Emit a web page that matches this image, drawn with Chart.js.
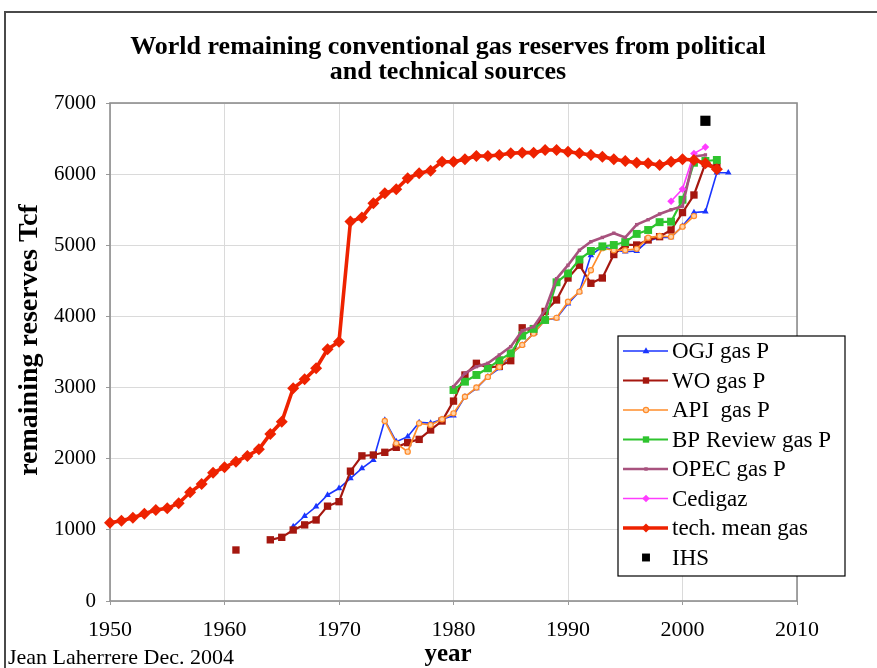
<!DOCTYPE html>
<html><head><meta charset="utf-8">
<script src="https://cdn.jsdelivr.net/npm/chart.js@4.4.1/dist/chart.umd.min.js"></script>
<style>html,body{margin:0;padding:0;background:#fff;overflow:hidden}canvas{display:block}</style>
</head><body>
<canvas id="c" width="877" height="668"></canvas>
<script>
// ---------- data ----------
const xTicks = [1950, 1960, 1970, 1980, 1990, 2000, 2010];
const yTicks = [0, 1000, 2000, 3000, 4000, 5000, 6000, 7000];

const ogjYears = [1966,1967,1968,1969,1970,1971,1972,1973,1974,1975,1976,1977,1978,1979,1980,1981,1982,1983,1984,1985,1986,1987,1988,1989,1990,1991,1992,1993,1994,1995,1996,1997,1998,1999,2000,2001,2002,2003,2004];
const ogjValues = [1045,1195,1326,1490,1584,1724,1865,1982,2544,2240,2310,2510,2500,2554,2605,2872,2990,3153,3270,3470,3599,3763,3950,3974,4180,4348,4860,4980,4934,4910,4920,5060,5110,5110,5270,5460,5473,6020,6020];

const woYears = [1961,1962,1963,1964,1965,1966,1967,1968,1969,1970,1971,1972,1973,1974,1975,1976,1977,1978,1979,1980,1981,1982,1983,1984,1985,1986,1987,1988,1989,1990,1991,1992,1993,1994,1995,1996,1997,1998,1999,2000,2001,2002,2003];
const woValues = [717,null,null,860,895,998,1070,1139,1333,1396,1825,2040,2052,2090,2160,2226,2272,2404,2530,2810,3177,3341,3280,3300,3378,3840,3790,4070,4231,4540,4720,4466,4540,4870,5010,5004,5075,5121,5215,5460,5707,6150,6100];

const apiYears = [1974,1975,1976,1977,1978,1979,1980,1981,1982,1983,1984,1985,1986,1987,1988,1989,1990,1991,1992,1993,1994,1995,1996,1997,1998,1999,2000,2001];
const apiValues = [2530,2216,2099,2497,2474,2554,2638,2870,3000,3150,3290,3470,3600,3760,3950,3980,4207,4348,4650,4960,4930,4930,4950,5107,5130,5120,5262,5410];

const bpYears = [1980,1981,1982,1983,1984,1985,1986,1987,1988,1989,1990,1991,1992,1993,1994,1995,1996,1997,1998,1999,2000,2001,2002,2003];
const bpValues = [2966,3083,3177,3271,3385,3482,3730,3825,3950,4480,4605,4800,4920,4985,5004,5045,5160,5215,5325,5332,5640,6160,6185,6199];

const opecYears = [1980,1981,1982,1983,1984,1985,1986,1987,1988,1989,1990,1991,1992,1993,1994,1995,1996,1997,1998,1999,2000,2001,2002];
const opecValues = [3013,3200,3294,3341,3458,3575,3800,3856,4090,4530,4720,4930,5050,5110,5170,5110,5290,5360,5440,5500,5550,6250,6270];

const cedigazYears = [1999,2000,2001,2002];
const cedigazValues = [5620,5790,6290,6380];

const techYears = [1950,1951,1952,1953,1954,1955,1956,1957,1958,1959,1960,1961,1962,1963,1964,1965,1966,1967,1968,1969,1970,1971,1972,1973,1974,1975,1976,1977,1978,1979,1980,1981,1982,1983,1984,1985,1986,1987,1988,1989,1990,1991,1992,1993,1994,1995,1996,1997,1998,1999,2000,2001,2002,2003];
const techValues = [1101,1129,1171,1227,1279,1303,1373,1528,1645,1804,1879,1958,2038,2132,2347,2520,2990,3116,3271,3538,3645,5335,5390,5590,5730,5787,5942,6012,6049,6175,6175,6209,6255,6255,6270,6293,6302,6302,6340,6340,6316,6293,6270,6246,6209,6185,6161,6152,6128,6175,6209,6199,6152,6068];

const ihsYears = [2002];
const ihsValues = [6750];

const seriesNames = ['OGJ gas P','WO gas P','API  gas P','BP Review gas P','OPEC gas P','Cedigaz','tech. mean gas','IHS'];
const titleLines = ['World remaining conventional gas reserves from political','and technical sources'];
const yTitle = 'remaining reserves Tcf';
const xTitle = 'year';
const credit = 'Jean Laherrere Dec. 2004';

// ---------- build ----------
function pts(xs, ys){ return xs.map((x,i)=>({x:x, y:ys[i]})); }
const SERIF = '"Liberation Serif", "Times New Roman", serif';

const styles = [
  {color:'#1a35ff', width:1.6, style:'triangle', r:3.8, bg:'#1a35ff'},
  {color:'#a5170f', width:2.2, style:'rect', r:5.2, bg:'#a5170f'},
  {color:'#ff8c2a', width:1.7, style:'circle', r:2.6, bg:'#ffd2a8'},
  {color:'#2ec42e', width:2.2, style:'rect', r:5.6, bg:'#2ec42e'},
  {color:'#a8527e', width:2.6, style:'rect', r:2.4, bg:'#a8527e'},
  {color:'#ff3cff', width:1.6, style:'rectRot', r:3.8, bg:'#ff3cff'},
  {color:'#ee2200', width:3.6, style:'rectRot', r:6.0, bg:'#ee2200'},
  {color:'#000000', width:0, style:'rect', r:7.2, bg:'#000000'}
];
const sets = [
  [ogjYears, ogjValues],[woYears, woValues],[apiYears, apiValues],[bpYears, bpValues],
  [opecYears, opecValues],[cedigazYears, cedigazValues],[techYears, techValues],[ihsYears, ihsValues]
];
const datasets = sets.map((s,i)=>({
  label: seriesNames[i],
  data: pts(s[0], s[1]),
  borderColor: styles[i].color,
  backgroundColor: styles[i].bg,
  borderWidth: styles[i].width,
  showLine: i !== 7,
  pointStyle: styles[i].style,
  pointRadius: styles[i].r,
  pointBorderWidth: i === 2 ? 1.2 : 0,
  pointBorderColor: styles[i].color,
  pointBackgroundColor: styles[i].bg,
  tension: 0,
  spanGaps: false,
  order: 8 - i,
  clip: false
}));

function drawMarker(ctx, st, x, y){
  ctx.save();
  ctx.fillStyle = st.bg; ctx.strokeStyle = st.color; ctx.lineWidth = 1.2;
  const r = st.r;
  ctx.beginPath();
  if (st.style === 'rect'){ const s = Math.SQRT1_2*r; ctx.rect(x-s,y-s,2*s,2*s); ctx.fill(); }
  else if (st.style === 'rectRot'){ ctx.moveTo(x,y-r); ctx.lineTo(x+r,y); ctx.lineTo(x,y+r); ctx.lineTo(x-r,y); ctx.closePath(); ctx.fill(); }
  else if (st.style === 'triangle'){ ctx.moveTo(x,y-r); ctx.lineTo(x+r*0.9,y+r*0.6); ctx.lineTo(x-r*0.9,y+r*0.6); ctx.closePath(); ctx.fill(); }
  else { ctx.arc(x,y,r,0,Math.PI*2); ctx.fill(); ctx.stroke(); }
  ctx.restore();
}

const decor = {
  id: 'decor',
  beforeDraw(chart){
    const ctx = chart.ctx;
    ctx.save();
    ctx.fillStyle = '#fff'; ctx.fillRect(0,0,chart.width,chart.height);
    ctx.strokeStyle = '#4a4a4a'; ctx.lineWidth = 2;
    ctx.beginPath(); ctx.moveTo(5,668); ctx.lineTo(5,12); ctx.lineTo(877,12); ctx.stroke();
    ctx.restore();
  },
  beforeDatasetsDraw(chart){
    const a = chart.chartArea, ctx = chart.ctx;
    ctx.save(); ctx.strokeStyle = '#8e8e8e'; ctx.lineWidth = 1.6;
    ctx.strokeRect(a.left, a.top, a.right-a.left, a.bottom-a.top);
    ctx.restore();
  },
  afterDraw(chart){
    const ctx = chart.ctx, a = chart.chartArea;
    ctx.save();
    ctx.fillStyle = '#000';
    ctx.textAlign = 'center'; ctx.textBaseline = 'middle';
    ctx.font = 'bold 26px ' + SERIF;
    ctx.fillText(titleLines[0], 448, 47);
    ctx.fillText(titleLines[1], 448, 72);
    ctx.font = 'bold 25px ' + SERIF;
    ctx.fillText(xTitle, 448, 655);
    ctx.save(); ctx.translate(30, 340); ctx.rotate(-Math.PI/2);
    ctx.font = 'bold 28px ' + SERIF; ctx.fillText(yTitle, 0, 0); ctx.restore();
    ctx.textAlign = 'left';
    ctx.font = '22px ' + SERIF;
    ctx.fillText(credit, 8, 658);
    // legend box
    const bx = 618, by = 336, bw = 227, bh = 240;
    ctx.fillStyle = '#fff'; ctx.fillRect(bx, by, bw, bh);
    ctx.strokeStyle = '#000'; ctx.lineWidth = 1.2; ctx.strokeRect(bx, by, bw, bh);
    ctx.font = '23px ' + SERIF; ctx.textBaseline = 'middle';
    chart.data.datasets.forEach((ds, i)=>{
      const y = 351 + i*29.5;
      const st = styles[i];
      if (ds.showLine !== false){
        ctx.strokeStyle = st.color; ctx.lineWidth = st.width;
        ctx.beginPath(); ctx.moveTo(623, y); ctx.lineTo(668, y); ctx.stroke();
      }
      drawMarker(ctx, i === 7 ? Object.assign({}, st, {r:5.6}) : Object.assign({}, st, {r: Math.min(st.r, 4.5)}), 646, y);
      ctx.fillStyle = '#000';
      ctx.fillText(ds.label, 672, y + 1);
    });
    ctx.restore();
  }
};

new Chart(document.getElementById('c'), {
  type: 'line',
  data: { datasets },
  options: {
    responsive: false,
    animation: false,
    devicePixelRatio: 1,
    layout: { padding: { left: 0, top: 103, right: 80, bottom: 0 } },
    plugins: { legend: { display: false }, title: { display: false }, tooltip: { enabled: false } },
    scales: {
      x: {
        type: 'linear', min: xTicks[0], max: xTicks[xTicks.length-1],
        afterBuildTicks: s => { s.ticks = xTicks.map(v => ({value: v})); },
        afterFit: s => { s.height = 67; },
        grid: { color: '#dadada', lineWidth: 1, tickLength: 4, tickColor: '#9a9a9a' },
        border: { display: false },
        ticks: { font: { family: SERIF, size: 22 }, color: '#000', padding: 12, maxRotation: 0, callback: v => String(v) }
      },
      y: {
        type: 'linear', min: yTicks[0], max: yTicks[yTicks.length-1],
        afterBuildTicks: s => { s.ticks = yTicks.map(v => ({value: v})); },
        afterFit: s => { s.width = 110; },
        grid: { color: '#dadada', lineWidth: 1, tickLength: 4, tickColor: '#9a9a9a' },
        border: { display: false },
        ticks: { font: { family: SERIF, size: 21 }, color: '#000', padding: 10, callback: v => String(v) }
      }
    }
  },
  plugins: [decor]
});
</script>
</body></html>
